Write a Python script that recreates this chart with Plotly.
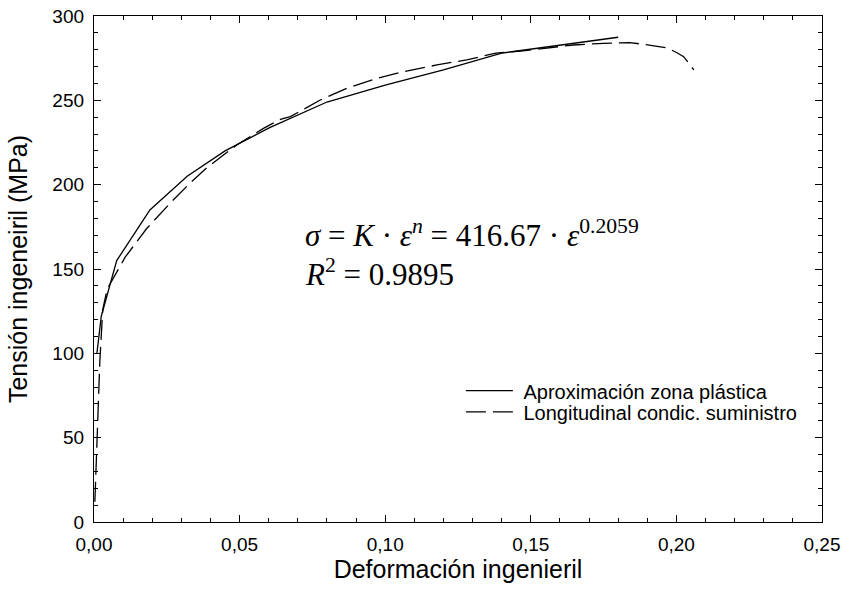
import plotly.graph_objects as go

# Data
fit_strain = [0.001, 0.0025, 0.0078, 0.0192, 0.032, 0.045, 0.0605, 0.08, 0.10, 0.12, 0.14, 0.16, 0.18]
fit_stress = [100, 122, 155, 185, 205, 220, 234, 249, 259, 268, 278, 282.5, 287.4]

exp_strain = [0.0003, 0.001, 0.002, 0.003, 0.0045, 0.0107, 0.0181, 0.0267, 0.033, 0.0387, 0.045,
              0.049, 0.0582, 0.064, 0.0674, 0.0777, 0.0868, 0.0971, 0.1063, 0.1178, 0.128, 0.138,
              0.1474, 0.16, 0.1646, 0.175, 0.184, 0.1887, 0.197, 0.2002, 0.2025, 0.206]
exp_stress = [12, 45, 95, 126, 138, 157, 174, 190, 201, 210, 218.6,
              223.5, 233.4, 238.7, 240.3, 250.2, 257.1, 263, 267, 271, 274, 278,
              279.4, 282, 282.8, 283.8, 284.2, 283.2, 281, 278.2, 275.9, 268]

x_ticks = [0, 0.05, 0.10, 0.15, 0.20, 0.25]
y_ticks = [0, 50, 100, 150, 200, 250, 300]

fig = go.Figure()
fig.add_trace(go.Scatter(x=fit_strain, y=fit_stress, mode="lines",
                         name="\u00a0Aproximación zona plástica", legend="legend",
                         line=dict(color="black", width=1.3)))
fig.add_trace(go.Scatter(x=exp_strain, y=exp_stress, mode="lines",
                         name="\u00a0Longitudinal condic. suministro", legend="legend2",
                         line=dict(color="black", width=1.3, dash="20px,7px")))

axis_common = dict(showgrid=False, zeroline=False, showline=True, linecolor="black",
                   linewidth=1.3, mirror="ticks", ticks="inside", tickcolor="black",
                   tickwidth=1.3, ticklen=7, automargin=False,
                   tickfont=dict(family="Liberation Sans, Arial", size=19, color="black"))

fig.update_xaxes(range=[0, 0.25], tickvals=x_ticks, tickformat=".2f",
                 minor=dict(dtick=0.01, ticks="inside", ticklen=4, tickcolor="black", tickwidth=1.3),
                 title=dict(text="Deformación ingenieril", standoff=4,
                            font=dict(family="Liberation Sans, Arial", size=25, color="black")),
                 ticklabelstandoff=5,
                 **axis_common)
fig.update_yaxes(range=[0, 300], tickvals=y_ticks,
                 minor=dict(dtick=10, ticks="inside", ticklen=4, tickcolor="black", tickwidth=1.3),
                 title=dict(text="Tensión ingeneiril (MPa)", standoff=17,
                            font=dict(family="Liberation Sans, Arial", size=25, color="black")),
                 ticklabelstandoff=5,
                 **axis_common)

fig.add_annotation(xref="paper", yref="paper", x=0.287, y=(522 - 255) / 506, xanchor="left", yanchor="bottom",
                   showarrow=False,
                   text="<i>σ</i> = <i>K</i> · <i>ε<sup>n</sup></i> = 416.67 · <i>ε</i><sup>0.2059</sup>",
                   font=dict(family="Liberation Serif, Times New Roman", size=31, color="black"))
fig.add_annotation(xref="paper", yref="paper", x=0.287, y=(522 - 294) / 506, xanchor="left", yanchor="bottom",
                   showarrow=False,
                   text="<i>R</i><sup>2</sup> = 0.9895",
                   font=dict(family="Liberation Serif, Times New Roman", size=31, color="black"))

legend_common = dict(xanchor="left", yanchor="top", bgcolor="rgba(0,0,0,0)",
                     itemwidth=47, tracegroupgap=0,
                     font=dict(family="Liberation Sans, Arial", size=20, color="black"))

fig.update_layout(
    width=845, height=602,
    margin=dict(l=94, r=23, t=16, b=80),
    paper_bgcolor="white", plot_bgcolor="white",
    separators=",.",
    showlegend=True,
    legend=dict(x=0.504, y=0.298, **legend_common),
    legend2=dict(x=0.504, y=0.256, **legend_common),
)

fig.write_html("out.html", config={"displayModeBar": False},
               post_script="document.body.style.margin='0';")
